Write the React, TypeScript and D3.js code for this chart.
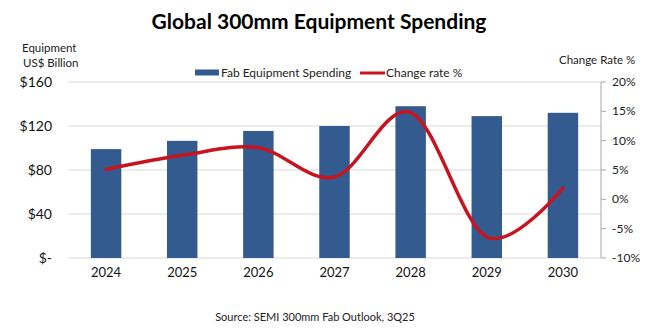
import React from 'react';
import * as d3 from 'd3';

const years = ['2024', '2025', '2026', '2027', '2028', '2029', '2030'];
const spending = [99, 106.5, 115.5, 120, 138, 129, 132]; // US$ billion
const changeRate = [5.1, 7.5, 8.8, 3.8, 14.8, -6.4, 1.9]; // %
const leftTicks = [0, 40, 80, 120, 160];
const rightTicks = [-10, -5, 0, 5, 10, 15, 20];

const W = 650;
const H = 334;
const FONT = 'Lato, "Open Sans", sans-serif';
const BAR = '#335b8f';
const RED = '#c8141e';

const plotLeft = 68;
const plotRight = 601;
const plotTop = 82;
const plotBottom = 258;

export default function App() {
  const x = d3.scaleBand<string>().domain(years).range([plotLeft, plotRight]).paddingInner(0.6).paddingOuter(0.3);
  const y = d3.scaleLinear().domain([0, 160]).range([plotBottom, plotTop]);
  const yR = d3.scaleLinear().domain([-10, 20]).range([plotBottom, plotTop]);

  const line = d3.line<number>()
    .x((_, i) => (x(years[i]) ?? 0) + x.bandwidth() / 2)
    .y(d => yR(d))
    .curve(d3.curveCardinal.tension(0));

  const fmtLeft = (v: number) => (v === 0 ? '$-' : `$${v}`);

  return (
    <svg width={W} height={H} style={{ position: 'absolute', left: 0, top: 0, background: '#fff' }} fontFamily={FONT}>
      <text x={319} y={29} textAnchor="middle" fontSize={21} fontWeight="bold" fill="#000">
        Global 300mm Equipment Spending
      </text>

      {/* axis titles */}
      <text x={22} y={52} fontSize={11.5} fill="#222">Equipment</text>
      <text x={23} y={67} fontSize={11.5} fill="#222">US$ Billion</text>
      <text x={559} y={64} fontSize={11.5} fill="#222">Change Rate %</text>

      {/* legend */}
      <rect x={195} y={69.5} width={24} height={6} fill={BAR} />
      <text x={221} y={77} fontSize={12} fill="#222">Fab Equipment Spending</text>
      <line x1={360} x2={385} y1={73} y2={73} stroke={RED} strokeWidth={3} />
      <text x={386} y={77} fontSize={12} fill="#222">Change rate %</text>

      {/* gridlines */}
      {leftTicks.map(t => (
        <line key={t} x1={plotLeft} x2={plotRight} y1={y(t)} y2={y(t)} stroke="#d9d9d9" strokeWidth={1} />
      ))}
      {leftTicks.map(t => (
        <text key={t} x={52} y={y(t) + 5} textAnchor="end" fontSize={14} fill="#111">{fmtLeft(t)}</text>
      ))}

      {/* bars */}
      {spending.map((v, i) => (
        <rect key={years[i]} x={x(years[i])} y={y(v)} width={x.bandwidth()} height={y(0) - y(v)} fill={BAR} />
      ))}

      {/* change rate line */}
      <path d={line(changeRate) ?? ''} fill="none" stroke={RED} strokeWidth={3.5} strokeLinecap="round" />

      {/* right axis */}
      <line x1={plotRight} x2={plotRight} y1={plotTop} y2={plotBottom} stroke="#a6a6a6" strokeWidth={1} />
      {rightTicks.map(t => (
        <g key={t}>
          <line x1={plotRight} x2={plotRight + 5} y1={yR(t)} y2={yR(t)} stroke="#a6a6a6" strokeWidth={1} />
          <text x={612} y={yR(t) + 4} fontSize={12} fill="#222">{`${t}%`}</text>
        </g>
      ))}

      {/* x labels */}
      {years.map(yr => (
        <text key={yr} x={(x(yr) ?? 0) + x.bandwidth() / 2} y={277} textAnchor="middle" fontSize={13} fill="#111">{yr}</text>
      ))}

      <text x={315} y={321} textAnchor="middle" fontSize={11} fill="#222">Source: SEMI 300mm Fab Outlook, 3Q25</text>
    </svg>
  );
}
